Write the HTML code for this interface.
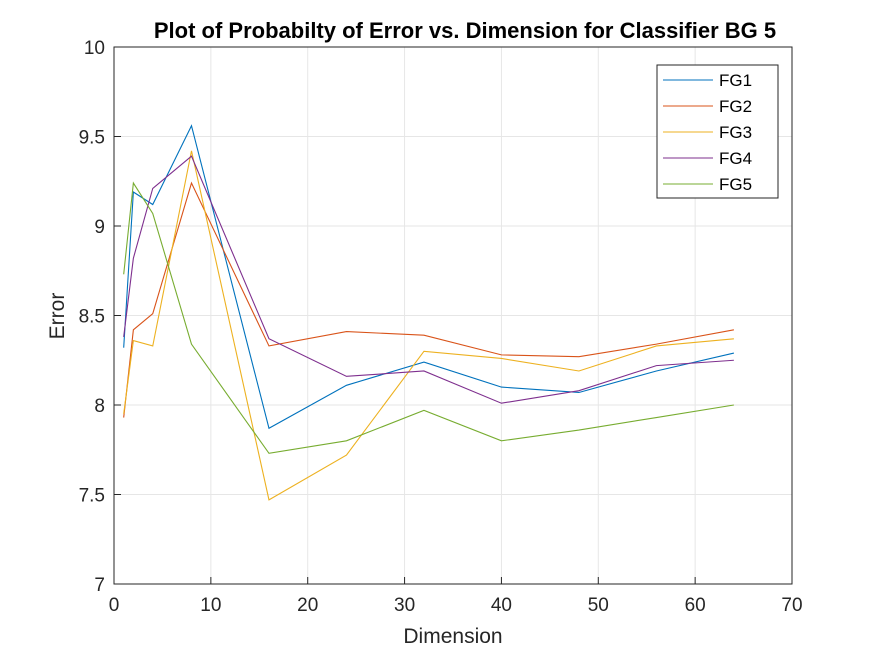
<!DOCTYPE html>
<html><head><meta charset="utf-8"><style>
html,body{margin:0;padding:0;background:#fff;}
svg{display:block;font-family:"Liberation Sans",Arial,sans-serif;}
</style></head><body>
<svg id="chart" width="875" height="656" viewBox="0 0 875 656">
<rect x="0" y="0" width="875" height="656" fill="#fff"/>
<g id="grid"></g>
<rect x="114" y="47" width="678" height="537" fill="none" stroke="#262626" stroke-width="1"/>
<g id="ticks"></g>
<g id="series"></g>
<text x="465" y="38" text-anchor="middle" font-size="22" font-weight="bold" fill="#000">Plot of Probabilty of Error vs. Dimension for Classifier BG 5</text>
<text x="453" y="643" text-anchor="middle" font-size="21" fill="#262626">Dimension</text>
<text x="64" y="316" text-anchor="middle" font-size="21" fill="#262626" transform="rotate(-90 64 316)">Error</text>
<g id="legend"></g>
</svg>
<script>
const dims=[1,2,4,8,16,24,32,40,48,56,64];
const fg1=[8.32,9.19,9.12,9.56,7.87,8.11,8.24,8.10,8.07,8.19,8.29];
const fg2=[7.93,8.42,8.51,9.24,8.33,8.41,8.39,8.28,8.27,8.34,8.42];
const fg3=[7.95,8.36,8.33,9.42,7.47,7.72,8.30,8.26,8.19,8.33,8.37];
const fg4=[8.38,8.82,9.21,9.39,8.37,8.16,8.19,8.01,8.08,8.22,8.25];
const fg5=[8.73,9.24,9.07,8.34,7.73,7.80,7.97,7.80,7.86,7.93,8.00];
const seriesNames=["FG1","FG2","FG3","FG4","FG5"];
const xTicks=[0,10,20,30,40,50,60,70];
const yTicks=[7,7.5,8,8.5,9,9.5,10];
const colors=["#0072BD","#D95319","#EDB120","#7E2F8E","#77AC30"];
const NS="http://www.w3.org/2000/svg";
const X0=114,X1=792,Y0=584,Y1=47;
const xs=v=>X0+(v-0)/(70-0)*(X1-X0);
const ys=v=>Y0-(v-7)/(10-7)*(Y0-Y1);
function mk(tag,attrs,parent){const e=document.createElementNS(NS,tag);for(const k in attrs)e.setAttribute(k,attrs[k]);parent.appendChild(e);return e;}
const grid=document.getElementById('grid'),ticks=document.getElementById('ticks');
xTicks.forEach(t=>{
  const x=xs(t);
  const g=mk('line',{x1:x,x2:x,y1:Y1,y2:Y0,stroke:'#e6e6e6'},grid);
  
  
  const tk=mk('line',{x1:x,x2:x,y1:Y0,y2:Y0-7,stroke:'#262626'},ticks);
  
  
  const tl=mk('text',{x:x,y:Y0+27,'text-anchor':'middle','font-size':19,fill:'#262626'},ticks);
  tl.textContent=t;
  
  
});
yTicks.forEach(t=>{
  const y=ys(t);
  const g=mk('line',{x1:X0,x2:X1,y1:y,y2:y,stroke:'#e6e6e6'},grid);
  
  
  const tk=mk('line',{x1:X0,x2:X0+7,y1:y,y2:y,stroke:'#262626'},ticks);
  
  
  const tl=mk('text',{x:X0-9,y:y+7,'text-anchor':'end','font-size':19,fill:'#262626'},ticks);
  tl.textContent=t;
  
  
});
const ser=document.getElementById('series');
[fg1,fg2,fg3,fg4,fg5].forEach((d,i)=>{
  const pts=d.map((v,j)=>xs(dims[j])+','+ys(v)).join(' ');
  const p=mk('polyline',{points:pts,fill:'none',stroke:colors[i],'stroke-width':1.1},ser);
  
  
});
const leg=document.getElementById('legend');
const box=mk('rect',{x:657,y:65,width:121,height:133,fill:'#fff',stroke:'#262626'},leg);


seriesNames.forEach((n,i)=>{
  const y=80+i*26;
  const l=mk('line',{x1:663,x2:713,y1:y,y2:y,stroke:colors[i],'stroke-width':1.1},leg);
  
  
  const t=mk('text',{x:719,y:y+6,'font-size':17,fill:'#000'},leg);
  t.textContent=n;
  
  
});
</script>
</body></html>
